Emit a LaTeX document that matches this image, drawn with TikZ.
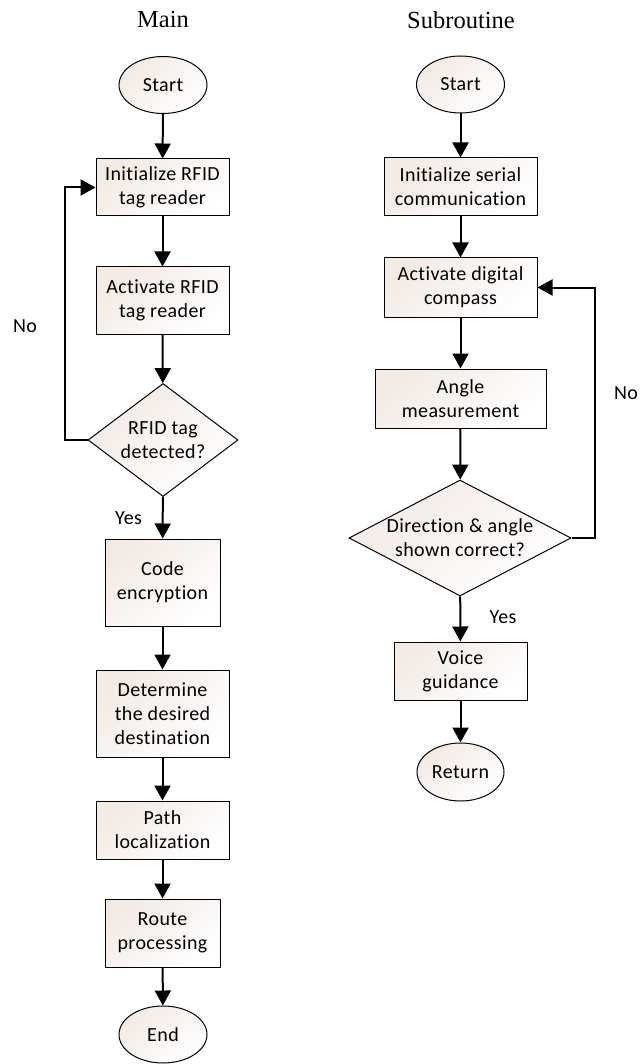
\documentclass[tikz,border=0pt]{standalone}
\usepackage{fontspec}
\setmainfont[Ligatures={NoCommon,NoRequired,NoContextual}, LetterSpace=2]{Carlito}
\newfontfamily\titlefont{Liberation Serif}
\usetikzlibrary{shapes.geometric,arrows.meta}
\definecolor{boxfill}{RGB}{242,234,229}
\tikzset{
  txt/.style={font=\fontsize{20}{24}\selectfont, align=center, text=black},
  shadefill/.style={top color=boxfill, bottom color=white, shading angle=40},
  base/.style={draw=black, line width=1pt, shadefill, txt},
  procbox/.style={base, rectangle, inner sep=0pt},
  termnode/.style={base, ellipse, inner sep=0pt, minimum width=88pt, minimum height=57pt},
  decision/.style={draw=black, line width=1pt, shadefill, diamond, inner sep=0pt},
  flow/.style={line width=2pt, -{Triangle[width=16pt,length=15pt]}},
  ttl/.style={font=\titlefont\fontsize{24.5}{28}\selectfont},
  lbl/.style={font=\fontsize{20}{24}\selectfont}
}
\begin{document}
\begin{tikzpicture}[x=1pt,y=-1pt]
\useasboundingbox (0,0) rectangle (639,1064);
% Main
\node[ttl] (tm) at (163,20) {Main};
\node[termnode] (s1) at (163,85) {Start};
\node[procbox, minimum width=133pt, minimum height=57pt] (a1) at (162.5,187.5) {Initialize RFID\\tag reader};
\node[procbox, minimum width=133pt, minimum height=67pt] (a2) at (162.5,300.5) {Activate RFID\\tag reader};
\node[decision, minimum width=150pt, minimum height=113pt, label={[txt]center:RFID tag\\detected?}] (d1) at (163,440) {};
\node[procbox, minimum width=115pt, minimum height=87pt] (a3) at (162.5,582.5) {Code\\encryption};
\node[procbox, minimum width=133pt, minimum height=87pt] (a4) at (162.5,713.5) {Determine\\the desired\\destination};
\node[procbox, minimum width=133pt, minimum height=58pt] (a5) at (162.5,830) {Path\\localization};
\node[procbox, minimum width=115pt, minimum height=68pt] (a6) at (162.5,933) {Route\\processing};
\node[termnode] (e1) at (163,1034.5) {End};
\node[lbl] (no1) at (25,326) {No};
\node[lbl] (yes1) at (128.5,518) {Yes};
\draw[flow] (s1) -- (a1);
\draw[flow] (a1) -- (a2);
\draw[flow] (a2) -- (d1);
\draw[flow] (d1) -- (a3);
\draw[flow] (a3) -- (a4);
\draw[flow] (a4) -- (a5);
\draw[flow] (a5) -- (a6);
\draw[flow] (a6) -- (e1);
\draw[flow] (d1.west) -- ++(-23,0) |- (a1.west);
% Subroutine
\node[ttl] (ts) at (461,20) {Subroutine};
\node[termnode] (s2) at (460.5,84.5) {Start};
\node[procbox, minimum width=153pt, minimum height=58pt] (b1) at (460.5,187) {Initialize serial\\communication};
\node[procbox, minimum width=153pt, minimum height=59pt] (b2) at (460.5,287.5) {Activate digital\\compass};
\node[procbox, minimum width=171pt, minimum height=59pt] (b3) at (460.5,398.5) {Angle\\measurement};
\node[decision, minimum width=222pt, minimum height=116pt, label={[txt]center:Direction \& angle\\shown correct?}] (d2) at (460,538) {};
\node[procbox, minimum width=133pt, minimum height=58pt] (b4) at (460.5,671) {Voice\\guidance};
\node[termnode, minimum width=87pt, minimum height=58pt] (r2) at (460.5,772) {Return};
\node[lbl] (no2) at (626,393) {No};
\node[lbl] (yes2) at (503,617) {Yes};
\draw[flow] (s2) -- (b1);
\draw[flow] (b1) -- (b2);
\draw[flow] (b2) -- (b3);
\draw[flow] (b3) -- (d2);
\draw[flow] (d2) -- (b4);
\draw[flow] (b4) -- (r2);
\draw[flow] (d2.east) -- ++(23,0) |- (b2.east);
\end{tikzpicture}
\end{document}
